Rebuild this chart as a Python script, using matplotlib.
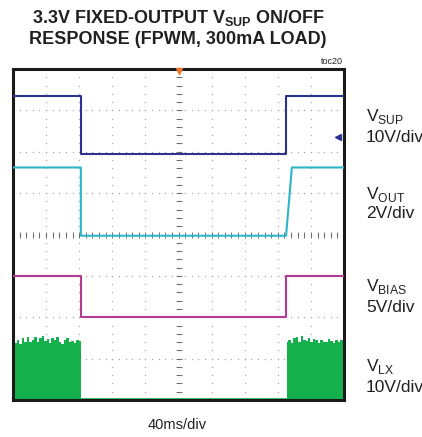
import numpy as np
import matplotlib
matplotlib.use("Agg")
import matplotlib.pyplot as plt

plt.rcParams['font.family'] = ['Liberation Sans', 'DejaVu Sans']
plt.rcParams['mathtext.fontset'] = 'custom'
plt.rcParams['mathtext.rm'] = 'Liberation Sans'

# time base: 40 ms/div, 10 divisions
T_DIV = 40.0
T_END = 400.0

# channel name, volts/div, ground position (div), high level (V)
names = ["SUP", "OUT", "BIAS", "LX"]
v_per_div = [10.0, 2.0, 5.0, 10.0]
ground_div = [5.94, 3.97, 2.01, 0.0]
high_v = [14.0, 3.3, 4.9, 0.0]
colors = ["#2d3192", "#2cb6c8", "#b23a91", "#13b04b"]

# edges (ms)
t_off = [82.0, 82.0, 82.0, 82.0]
t_on = [330.0, 330.0, 330.0, 331.0]
vout_rise_end = 337.0

# VLX switching burst envelope tops (V)
lx_left_t = [0, 3, 6, 9, 12, 15, 18, 21, 24, 27, 30, 33, 36, 39, 42, 45, 48,
             51, 54, 57, 60, 63, 66, 69, 72, 75, 78, 81, 82]
lx_left_v = [14.2, 13.8, 14.5, 13.6, 14.9, 14.0, 15.2, 13.9, 14.6, 15.3, 14.1,
             15.0, 15.4, 14.3, 14.8, 13.7, 15.1, 14.4, 15.3, 14.0, 13.6, 14.5,
             14.9, 13.9, 14.2, 13.8, 14.6, 14.3, 14.3]
lx_right_t = [331, 334, 337, 340, 343, 346, 349, 352, 355, 358, 361, 364, 367,
              370, 373, 376, 379, 382, 385, 388, 391, 394, 397, 400]
lx_right_v = [14.0, 14.5, 13.8, 14.9, 15.2, 14.1, 15.4, 14.6, 14.3, 15.1, 14.0,
              14.8, 14.4, 13.7, 14.6, 14.0, 13.9, 14.7, 14.2, 13.8, 14.5, 14.1,
              14.6, 14.3]

fig = plt.figure(figsize=(4.22, 4.37), dpi=100)
W, H = 422.0, 437.0
ax = fig.add_axes([13 / W, 1 - 400 / H, 331 / W, 331 / H])
ax.set_xlim(0, T_END)
ax.set_ylim(0, 8)
ax.set_xticks([])
ax.set_yticks([])
for s in ax.spines.values():
    s.set_linewidth(2.2)
    s.set_color("#1a1a1a")

# graticule: dotted lines every division, dots every 1/5 division
grid_c = "#a9a9a9"
xs = np.arange(0, T_END + 0.1, T_DIV / 5)
ys = np.arange(0, 8.01, 0.2)
for k in range(1, 8):
    if k == 4:
        continue
    ax.scatter(xs, np.full_like(xs, k), s=1.0, color=grid_c, lw=0, zorder=1)
for k in range(1, 10):
    if k == 5:
        continue
    ax.scatter(np.full_like(ys, k * T_DIV), ys, s=1.0, color=grid_c, lw=0, zorder=1)
# center axes with minor ticks
ax.scatter(xs, np.full_like(xs, 4), s=1.2, color="#8a8a8a", lw=0, zorder=1)
ax.plot(xs, np.full_like(xs, 4), ls="none", marker="|", ms=4, mew=0.7, color="#6e6e6e", zorder=1)
ax.scatter(np.full_like(ys, 5 * T_DIV), ys, s=1.2, color="#8a8a8a", lw=0, zorder=1)
ax.plot(np.full_like(ys, 5 * T_DIV), ys, ls="none", marker="_", ms=4, mew=0.7, color="#6e6e6e", zorder=1)

# trigger marker and channel marker
ax.plot([T_END / 2], [7.96], marker="v", ms=5, color="#e8762c", clip_on=False, zorder=5)
ax.plot([T_END - 7], [6.35], marker="<", ms=4, color="#2d3192", zorder=5)


def to_div(i, v):
    return ground_div[i] + np.asarray(v) / v_per_div[i]


# VSUP and VBIAS: square steps
for i in (0, 2):
    t = [0, t_off[i], t_off[i], t_on[i], t_on[i], T_END]
    v = [high_v[i], high_v[i], 0, 0, high_v[i], high_v[i]]
    ax.plot(t, to_div(i, v), color=colors[i], lw=1.5, zorder=3)

# VOUT: fast fall, soft-start ramp on turn-on
t = [0, t_off[1], t_off[1], t_on[1], vout_rise_end, T_END]
v = [high_v[1], high_v[1], 0, 0, high_v[1], high_v[1]]
ax.plot(t, to_div(1, v), color=colors[1], lw=1.5, zorder=3)

# VLX: switching bursts filled up to envelope, flat at 0 V when off
ax.fill_between(lx_left_t, 0, to_div(3, lx_left_v), step="mid",
                color=colors[3], lw=0, zorder=2)
ax.fill_between(lx_right_t, 0, to_div(3, lx_right_v), step="mid",
                color=colors[3], lw=0, zorder=2)
ax.plot([t_off[3], t_on[3]], [0.03, 0.03], color=colors[3], lw=1.2, zorder=2)


def ftxt(x, y, s, **kw):
    fig.text(x / W, 1 - y / H, s, **kw)


title_kw = dict(ha="center", va="center", fontsize=13, fontweight="bold", color="#231f20")
ftxt(178, 18, r"3.3V FIXED-OUTPUT V$_\mathregular{SUP}$ ON/OFF", **title_kw)
ftxt(178, 40, "RESPONSE (FPWM, 300mA LOAD)", **title_kw)
ftxt(343, 62, "toc20", ha="right", va="center", fontsize=6.5, color="#231f20")

lab_kw = dict(ha="left", va="center", fontsize=12.5, color="#231f20")
ftxt(366, 117, r"V$_\mathregular{SUP}$", **lab_kw)
ftxt(366, 137, "10V/div", **lab_kw)
ftxt(366, 194, r"V$_\mathregular{OUT}$", **lab_kw)
ftxt(366, 214, "2V/div", **lab_kw)
ftxt(366, 287, r"V$_\mathregular{BIAS}$", **lab_kw)
ftxt(366, 308, "5V/div", **lab_kw)
ftxt(366, 366, r"V$_\mathregular{LX}$", **lab_kw)
ftxt(366, 387, "10V/div", **lab_kw)
ftxt(177, 425, "40ms/div", ha="center", va="center", fontsize=10.5, color="#231f20")

fig.savefig("out.png", dpi=100)
